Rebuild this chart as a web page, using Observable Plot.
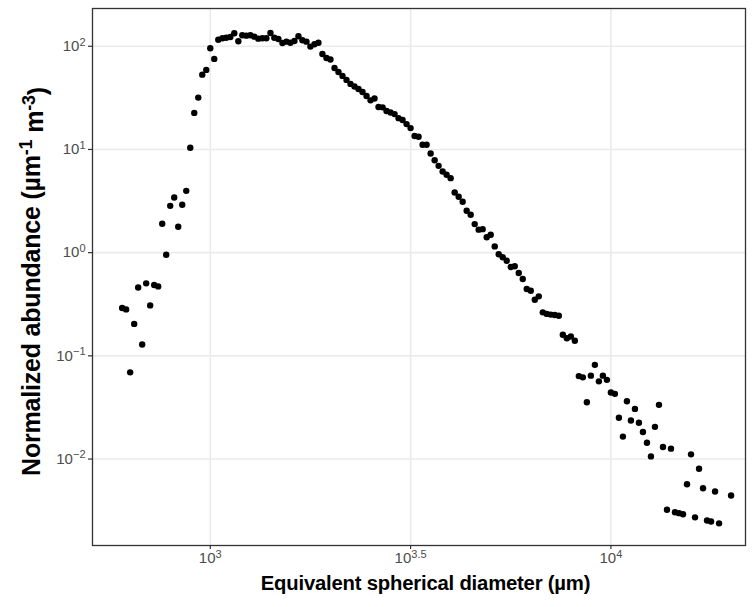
<!DOCTYPE html>
<html><head><meta charset="utf-8">
<script src="https://cdn.jsdelivr.net/npm/d3@7"></script>
<script src="https://cdn.jsdelivr.net/npm/@observablehq/plot@0.6"></script>
<style>body{margin:0;background:#fff}</style>
</head><body><div id="chart"></div>
<script>
// Equivalent spherical diameter (µm), bin centres
const diameter = [
  602.6, 616.6, 631.0, 645.7, 660.7, 676.1, 691.8, 707.9, 724.4, 741.3,
  758.6, 776.2, 794.3, 812.8, 831.8, 851.1, 871.0, 891.3, 912.0, 933.3,
  955.0, 977.2, 1000, 1023, 1047, 1072, 1096, 1122, 1148, 1175,
  1202, 1230, 1259, 1288, 1318, 1349, 1380, 1413, 1445, 1479,
  1514, 1549, 1585, 1622, 1660, 1698, 1738, 1778, 1820, 1862,
  1905, 1950, 1995, 2042, 2089, 2138, 2188, 2239, 2291, 2344,
  2399, 2455, 2512, 2570, 2630, 2692, 2754, 2818, 2884, 2951,
  3020, 3090, 3162, 3236, 3311, 3388, 3467, 3548, 3631, 3715,
  3802, 3890, 3981, 4074, 4169, 4266, 4365, 4467, 4571, 4677,
  4786, 4898, 5012, 5129, 5248, 5370, 5495, 5623, 5754, 5888,
  6026, 6166, 6310, 6457, 6607, 6761, 6918, 7079, 7244, 7413,
  7586, 7762, 7943, 8128, 8318, 8511, 8710, 8913, 9120, 9333,
  9550, 9772, 10000, 10233, 10471, 10715, 10965, 11220, 11482, 11749,
  12023, 12303, 12589, 12882, 13183, 13490, 13804, 14125, 14454, 14791,
  15136, 15488, 15849, 16218, 16596, 16982, 17378, 17783, 18197, 18621,
  19953
];
// Normalized abundance (µm^-1 m^-3)
const abundance = [
  0.291, 0.282, 0.0692, 0.204, 0.460, 0.129, 0.504, 0.308, 0.486, 0.471,
  1.905, 0.954, 2.84, 3.42, 1.78, 2.91, 3.97, 10.4, 22.6, 31.8,
  53.1, 59.0, 95.6, 75.4, 115.8, 119.5, 121.1, 123.1, 133.6, 111.8,
  127.8, 126.7, 127.8, 123.9, 118.5, 119.5, 119.5, 134.6, 121.1, 117.7,
  107.6, 110.8, 108.3, 112.5, 125.0, 114.3, 110.8, 99.3, 104.5, 108.3,
  84.2, 77.0, 74.5, 61.6, 56.4, 51.6, 47.2, 43.2, 40.8, 38.6,
  36.1, 33.0, 29.9, 31.2, 25.8, 25.6, 23.6, 22.8, 22.0, 20.1,
  19.3, 17.6, 16.1, 13.5, 13.3, 11.1, 11.1, 9.13, 7.87, 6.94,
  6.11, 5.68, 5.27, 3.83, 3.48, 3.11, 2.55, 2.33, 1.89, 1.67,
  1.69, 1.41, 1.49, 1.15, 0.964, 0.902, 0.835, 0.726, 0.738, 0.635,
  0.555, 0.444, 0.428, 0.350, 0.377, 0.264, 0.255, 0.251, 0.249, 0.245,
  0.160, 0.148, 0.154, 0.140, 0.0636, 0.0619, 0.0355, 0.0643, 0.0818, 0.0566,
  0.0643, 0.0585, 0.0441, 0.0428, 0.0251, 0.0165, 0.0363, 0.0236, 0.0306, 0.0225,
  0.0183, 0.0144, 0.0106, 0.0205, 0.0335, 0.0131, 0.00322, 0.0126, 0.00305, 0.00299,
  0.00292, 0.00570, 0.0111, 0.00272, 0.00804, 0.00521, 0.00254, 0.00248, 0.00484, 0.00238,
  0.00443
];
const xTickExponents = ["3", "3.5", "4"];
const yTickExponents = ["\u22122", "\u22121", "0", "1", "2"];
const xTitle = "Equivalent spherical diameter (µm)";
const yTitleParts = [["Normalized abundance (µm", false], ["-1", true], [" m", false], ["-3", true], [")", false]];

const data = diameter.map((d, i) => ({diameter: d, abundance: abundance[i]}));
const xTicks = xTickExponents.map(e => Math.pow(10, +e));
const yTicks = yTickExponents.map(e => Math.pow(10, +e.replace("\u2212", "-")));
const xExp = new Map(xTicks.map((t, i) => [t, xTickExponents[i]]));
const yExp = new Map(yTicks.map((t, i) => [t, yTickExponents[i]]));

const font = "'Liberation Sans', Arial, Helvetica, sans-serif";
const chart = Plot.plot({
  width: 755, height: 607,
  marginLeft: 92, marginRight: 10, marginTop: 8, marginBottom: 62,
  style: {fontFamily: font, background: "#fff", overflow: "visible"},
  x: {type: "log", domain: [Math.pow(10, 2.706), Math.pow(10, 4.336)]},
  y: {type: "log", domain: [Math.pow(10, -2.838), Math.pow(10, 2.366)]},
  marks: [
    Plot.gridX(xTicks, {stroke: "#ebebeb", strokeOpacity: 1, strokeWidth: 1.6}),
    Plot.gridY(yTicks, {stroke: "#ebebeb", strokeOpacity: 1, strokeWidth: 1.6}),
    Plot.axisX(xTicks, {tickSize: 4, tickPadding: 3, stroke: "#333", strokeWidth: 1.2, fill: "#4d4d4d", fontSize: 15,
      tickFormat: t => xExp.get(t), label: null}),
    Plot.axisY(yTicks, {tickSize: 4, tickPadding: 3, stroke: "#333", strokeWidth: 1.2, fill: "#4d4d4d", fontSize: 15,
      tickFormat: t => yExp.get(t), label: null}),
    Plot.dot(data, {x: "diameter", y: "abundance", r: 3.2, fill: "#000", stroke: null}),
    Plot.frame({stroke: "#333", strokeWidth: 1.3})
  ]
});
document.getElementById("chart").appendChild(chart);

const svg = d3.select(chart);
// superscript tick labels: 10^e
svg.selectAll('g[aria-label="x-axis tick label"] text, g[aria-label="y-axis tick label"] text').each(function() {
  const el = d3.select(this);
  const e = el.text();
  el.text(null);
  el.append("tspan").text("10");
  el.append("tspan").attr("dy", "-0.5em").attr("font-size", "11px").text(e);
});
// axis titles
svg.append("text")
  .attr("x", 425.5).attr("y", 590)
  .attr("text-anchor", "middle")
  .attr("font-family", font).attr("font-size", 20.3).attr("font-weight", "bold").attr("letter-spacing", "-0.2px")
  .attr("fill", "#000")
  .text(xTitle);
const yt = svg.append("text")
  .attr("transform", "translate(40,281.5) rotate(-90)")
  .attr("text-anchor", "middle")
  .attr("font-family", font).attr("font-size", 25).attr("font-weight", "bold").attr("letter-spacing", "-0.2px")
  .attr("fill", "#000");
yTitleParts.forEach(([s, sup], i) => {
  const t = yt.append("tspan").text(s);
  if (sup) t.attr("dy", "-0.45em").attr("font-size", 18);
  else if (i > 0) t.attr("dy", "0.45em");
});
</script></body></html>
